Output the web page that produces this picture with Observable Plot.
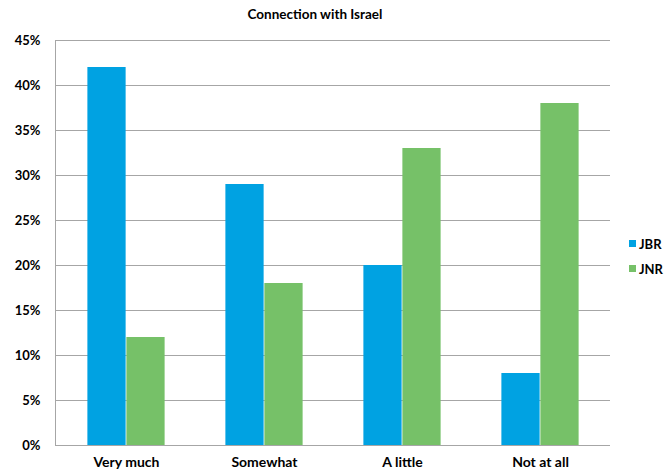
<!DOCTYPE html>
<html>
<head>
<meta charset="utf-8">
<script src="https://cdn.jsdelivr.net/npm/d3@7"></script>
<script src="https://cdn.jsdelivr.net/npm/@observablehq/plot@0.6"></script>
<style>
  body { margin: 0; background: #fff; }
  #wrap { position: relative; width: 666px; height: 476px; font-family: Lato, "Open Sans", sans-serif; }
  #title { position: absolute; left: 0; width: 630px; top: 6px; text-align: center; font-weight: bold; font-size: 13.5px; color: #000; z-index: 1; }
  #legend { position: absolute; left: 629px; top: 231px; font-weight: bold; font-size: 13px; color: #000; z-index: 1; }
  #legend div { display: flex; align-items: center; height: 25px; }
  #legend span.sw { display: inline-block; width: 7px; height: 7px; margin-right: 3px; }
</style>
</head>
<body>
<div id="wrap">
  <div id="title">Connection with Israel</div>
  <div id="legend"></div>
</div>
<script>
// Share of respondents by how connected they feel to Israel
const categories = ["Very much", "Somewhat", "A little", "Not at all"];
const groups = ["JBR", "JNR"];
const jbr = [42, 29, 20, 8];
const jnr = [12, 18, 33, 38];
const yTicks = [0, 5, 10, 15, 20, 25, 30, 35, 40, 45];
const colors = ["#00a2e2", "#76c168"];

const W = 666, marginLeft = 55, marginRight = 56;
const step = (W - marginLeft - marginRight) / categories.length;
const barW = step * 0.281;            // each bar's share of a category slot
const gap = (step - 2 * barW) / 2;    // half gap on either side of a pair

const jbrRows = categories.map((c, i) => ({category: c, group: "JBR", value: jbr[i]}));
const jnrRows = categories.map((c, i) => ({category: c, group: "JNR", value: jnr[i]}));

const chart = Plot.plot({
  width: W,
  height: 476,
  marginTop: 40,
  marginBottom: 31,
  marginLeft,
  marginRight,
  style: {fontFamily: "Lato, 'Open Sans', sans-serif", fontWeight: "bold", fontSize: "13px", color: "#000"},
  x: {domain: categories, padding: 0, label: null, axis: null},
  y: {domain: [0, 45], ticks: yTicks, label: null, axis: null},
  color: {domain: groups, range: colors},
  marks: [
    Plot.gridY(yTicks, {stroke: "#a6a6a6", strokeOpacity: 1, strokeWidth: 1}),
    Plot.barY(jbrRows, {x: "category", y: "value", fill: "group", insetLeft: gap, insetRight: gap + barW}),
    Plot.barY(jnrRows, {x: "category", y: "value", fill: "group", insetLeft: gap + barW, insetRight: gap}),
    Plot.axisX({anchor: "bottom", tickSize: 0, tickPadding: 12, label: null, fontSize: 14, fontWeight: "bold"}),
    Plot.axisY(yTicks, {tickSize: 0, tickPadding: 15, label: null, tickFormat: d => d + "%", fontSize: 13, fontWeight: "bold"}),
    Plot.frame({anchor: "left", stroke: "#a6a6a6", strokeOpacity: 1}),
    Plot.ruleY([0], {stroke: "#a6a6a6"})
  ]
});
document.getElementById("wrap").prepend(chart);
chart.style.position = "absolute";
chart.style.left = "0";
chart.style.top = "0";

const legend = document.getElementById("legend");
groups.forEach((g, i) => {
  const row = document.createElement("div");
  row.innerHTML = `<span class="sw" style="background:${colors[i]}"></span>${g}`;
  legend.appendChild(row);
});
</script>
</body>
</html>
